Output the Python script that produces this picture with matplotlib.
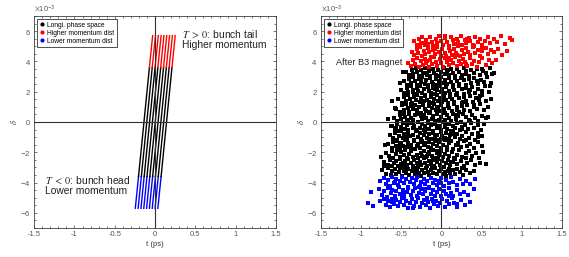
import matplotlib
matplotlib.use("Agg")
import matplotlib.pyplot as plt
from matplotlib.lines import Line2D
from matplotlib.ticker import AutoMinorLocator
import numpy as np

plt.rcParams['font.family'] = ['Liberation Sans', 'DejaVu Sans']
plt.rcParams['mathtext.fontset'] = 'stix'
plt.rcParams['axes.unicode_minus'] = False

# ---- left panel: 9 slices of the bunch, t (ps) read at four delta levels ----
delta_levels = [-5.7e-3, -3.6e-3, 3.6e-3, 5.7e-3]
t_bottom = [-0.245, -0.21, -0.175, -0.14, -0.105, -0.07, -0.035, 0.0, 0.035]
t_low = [-0.205, -0.17, -0.135, -0.10, -0.065, -0.03, 0.005, 0.04, 0.075]
t_high = [-0.07, -0.035, 0.0, 0.035, 0.07, 0.105, 0.14, 0.175, 0.21]
t_top = [-0.03, 0.005, 0.04, 0.075, 0.11, 0.145, 0.18, 0.215, 0.25]

# ---- right panel: particles after B3, (t in 0.01 ps, delta in 1e-5) ----
black_pts = [
    (-74,-318),(-69,-341),(-66,-305),(-63,-352),(-61,-327),(-58,-312),(-56,-346),(-53,-331),(-51,-303),(-49,-357),(-46,-322),
    (-44,-338),(-42,-309),(-40,-349),(-37,-326),(-35,-314),(-33,-343),(-31,-301),(-28,-335),(-26,-355),(-24,-319),(-22,-340),
    (-19,-307),(-17,-329),(-15,-351),(-13,-316),(-10,-337),(-8,-304),(-6,-347),(-3,-324),(-1,-311),(2,-342),(4,-330),(6,-356),
    (9,-308),(11,-334),(14,-320),(17,-345),(20,-313),(23,-332),(27,-350),(31,-317),(35,-339),(40,-325),
    (-71,-262),(-67,-284),(-64,-248),(-62,-293),(-59,-271),(-57,-255),(-54,-289),(-52,-243),(-50,-277),(-47,-297),(-45,-259),
    (-43,-281),(-41,-246),(-38,-268),(-36,-291),(-34,-252),(-31,-274),(-29,-299),(-27,-263),(-25,-286),(-22,-241),(-20,-270),
    (-18,-294),(-16,-257),(-13,-279),(-11,-249),(-9,-288),(-6,-265),(-4,-244),(-2,-283),(1,-260),(3,-296),(6,-273),(8,-251),
    (11,-287),(14,-266),(17,-245),(20,-280),(24,-258),(28,-292),(32,-269),(37,-254),(42,-285),(48,-272),
    (-69,-206),(-65,-227),(-62,-191),(-60,-238),(-57,-214),(-55,-183),(-52,-232),(-50,-199),(-47,-221),(-45,-187),(-43,-236),
    (-40,-209),(-38,-194),(-36,-229),(-33,-181),(-31,-217),(-29,-240),(-26,-202),(-24,-225),(-22,-189),(-19,-234),(-17,-211),
    (-15,-196),(-12,-223),(-10,-185),(-8,-237),(-5,-204),(-3,-219),(0,-192),(2,-231),(5,-213),(7,-184),(10,-226),(13,-200),
    (16,-239),(19,-216),(22,-188),(26,-230),(30,-207),(34,-193),(38,-222),(43,-203),(47,-235),
    (-66,-148),(-62,-171),(-60,-133),(-57,-162),(-55,-124),(-52,-177),(-50,-141),(-48,-156),(-45,-121),(-43,-168),(-41,-137),
    (-38,-152),(-36,-179),(-34,-128),(-31,-160),(-29,-144),(-27,-173),(-24,-123),(-22,-155),(-20,-139),(-17,-166),(-15,-131),
    (-13,-175),(-10,-147),(-8,-126),(-6,-158),(-3,-135),(-1,-170),(2,-150),(4,-122),(7,-164),(9,-142),(12,-129),(15,-176),
    (18,-153),(21,-136),(24,-167),(28,-127),(32,-158),(36,-143),(40,-172),(45,-132),(50,-161),
    (-64,-88),(-60,-109),(-58,-72),(-55,-117),(-53,-94),(-50,-63),(-48,-103),(-46,-79),(-43,-113),(-41,-67),(-39,-96),
    (-36,-84),(-34,-119),(-32,-61),(-29,-101),(-27,-76),(-25,-110),(-22,-89),(-20,-66),(-18,-106),(-15,-82),(-13,-115),
    (-11,-70),(-8,-98),(-6,-86),(-4,-118),(-1,-64),(1,-92),(4,-107),(6,-75),(9,-114),(11,-85),(14,-62),(17,-100),
    (20,-78),(23,-111),(26,-90),(30,-68),(34,-104),(38,-81),(42,-116),(46,-73),(51,-95),
    (-63,-27),(-58,-49),(-55,-12),(-53,-58),(-50,-35),(-48,-4),(-45,-44),(-43,-19),(-41,-53),(-38,-8),(-36,-38),
    (-34,-25),(-31,-56),(-29,-2),(-27,-42),(-24,-16),(-22,-51),(-20,-30),(-17,-6),(-15,-46),(-13,-22),(-10,-59),
    (-8,-11),(-6,-40),(-3,-28),(-1,-54),(2,-3),(4,-33),(7,-48),(9,-15),(12,-57),(14,-24),(17,-41),(20,-9),
    (23,-52),(26,-31),(29,-18),(33,-45),(37,-5),(41,-37),(45,-21),(49,-55),(53,-13),
    (-59,28),(-55,7),(-52,46),(-50,19),(-47,58),(-45,33),(-43,4),(-40,51),(-38,24),(-36,12),(-33,43),
    (-31,55),(-29,2),(-26,36),(-24,17),(-22,49),(-19,29),(-17,9),(-15,57),(-12,22),(-10,40),(-8,3),
    (-5,53),(-3,15),(-1,34),(2,59),(4,11),(7,44),(9,26),(12,6),(15,50),(18,20),(21,38),(24,1),
    (27,55),(30,31),(34,14),(38,47),(42,23),(46,8),(50,41),(55,27),
    (-56,88),(-52,67),(-49,109),(-47,79),(-44,118),(-42,94),(-40,63),(-37,103),(-35,84),(-33,115),(-30,71),
    (-28,97),(-26,61),(-23,112),(-21,86),(-19,74),(-16,106),(-14,65),(-12,92),(-9,119),(-7,78),(-5,100),
    (-2,69),(0,114),(3,83),(5,62),(8,108),(10,90),(13,73),(16,117),(19,96),(22,66),(25,104),(28,81),
    (32,111),(36,70),(40,99),(44,87),(48,116),(53,76),(58,101),
    (-54,149),(-49,128),(-46,167),(-44,139),(-41,178),(-39,154),(-37,122),(-34,163),(-32,144),(-30,175),(-27,131),
    (-25,158),(-23,121),(-20,171),(-18,146),(-16,134),(-13,166),(-11,125),(-9,152),(-6,179),(-4,138),(-2,160),
    (1,129),(3,173),(6,143),(8,123),(11,168),(13,150),(16,133),(19,177),(22,156),(25,126),(28,164),(31,141),
    (35,172),(39,130),(43,159),(47,147),(51,176),(56,136),
    (-50,209),(-46,188),(-43,227),(-41,199),(-38,238),(-36,214),(-34,182),(-31,223),(-29,204),(-27,235),(-24,191),
    (-22,218),(-20,181),(-17,231),(-15,206),(-13,194),(-10,226),(-8,185),(-6,212),(-3,239),(-1,198),(1,220),
    (4,189),(6,233),(9,203),(11,183),(14,228),(16,210),(19,193),(22,237),(25,216),(28,186),(31,224),(34,201),
    (38,232),(42,190),(46,219),(50,207),(54,236),(59,196),
    (-47,268),(-43,247),(-40,286),(-38,258),(-35,297),(-33,273),(-31,241),(-28,282),(-26,263),(-24,294),(-21,250),
    (-19,277),(-17,242),(-14,290),(-12,265),(-10,253),(-7,285),(-5,244),(-3,271),(0,298),(2,257),(4,279),
    (7,248),(9,292),(12,262),(14,243),(17,287),(19,269),(22,252),(25,296),(28,275),(31,245),(34,283),(37,260),
    (41,291),(45,249),(49,278),(53,266),(57,295),(62,255),
    (-44,328),(-40,307),(-37,346),(-35,318),(-32,357),(-30,333),(-28,301),(-25,342),(-23,323),(-21,354),(-18,310),
    (-16,337),(-14,302),(-11,350),(-9,325),(-7,313),(-4,345),(-2,304),(0,331),(3,358),(5,317),(7,339),
    (10,308),(12,352),(15,322),(17,303),(20,347),(22,329),(25,312),(28,356),(31,335),(34,305),(37,343),(40,320),
    (44,351),(48,309),(52,338),(56,326),(60,355),(63,315),
    (-62,140),(-58,95),(-66,20),(-61,-30),(-70,-150),(-75,-230),(-72,-290),(-52,260),(-48,330),
    (58,30),(62,150),(52,-200),(55,-280),(66,320),(60,240),
    # extra fill in the dense core
    (-30,-330),(-12,-298),(8,-322),(25,-305),(-48,-270),(-18,-228),(12,-262),(30,-240),(-38,-175),(-5,-190),
    (20,-150),(-25,-135),(0,-110),(-44,-95),(15,-80),(30,-120),(-20,-50),(5,-20),(-35,-10),(25,-45),
    (-42,15),(-10,30),(18,48),(35,5),(-30,80),(-4,95),(20,78),(40,112),(-22,140),(2,155),
    (27,132),(-35,200),(-8,215),(18,178),(36,210),(-26,270),(-2,250),(24,288),(44,270),(-20,320),
    (8,345),(30,315),(50,348),(-52,-150),(-56,-40),(-48,50),(-38,120),(-30,230),(45,-100),(48,170),
]

red_pts = [
    (-42,392),(-38,371),(-35,410),(-33,383),(-30,424),(-28,366),(-26,401),(-23,377),(-21,418),(-19,389),(-16,362),
    (-14,406),(-12,380),(-9,427),(-7,395),(-5,368),(-2,413),(0,386),(2,364),(5,420),(7,398),(9,374),(12,409),
    (14,388),(17,429),(19,367),(22,403),(24,381),(27,416),(29,393),(32,370),(35,422),(38,385),(41,405),(44,365),
    (47,396),(51,419),(55,378),(59,408),(63,390),(68,412),
    (-37,462),(-34,441),(-31,480),(-29,453),(-27,494),(-24,436),(-22,471),(-20,447),(-17,488),(-15,459),(-13,432),
    (-10,476),(-8,450),(-6,497),(-3,465),(-1,438),(1,483),(4,456),(6,434),(9,490),(11,468),(13,444),(16,479),
    (18,458),(21,499),(23,437),(26,473),(28,451),(31,486),(33,463),(36,440),(39,492),(42,455),(45,475),(48,435),
    (51,466),(55,489),(58,448),(62,478),(66,460),(71,482),(76,445),(82,470),
    (-34,532),(-31,511),(-28,550),(-26,523),(-24,564),(-21,506),(-19,541),(-17,517),(-14,558),(-12,529),(-10,502),
    (-7,546),(-5,520),(-3,567),(0,535),(2,508),(4,553),(7,526),(9,504),(12,561),(14,538),(16,514),(19,549),
    (21,528),(24,569),(26,507),(29,543),(31,521),(34,556),(36,533),(39,510),(42,562),(45,525),(48,545),(51,505),
    (54,536),(58,559),(61,518),(65,548),(69,530),(74,565),(79,515),(85,552),(88,540),
    (-18,400),(10,425),(30,380),(-8,480),(20,445),(40,500),(-22,520),(5,570),(32,545),(50,480),
]

blue_pts = [
    (-76,-392),(-72,-371),(-69,-410),(-66,-383),(-64,-424),(-61,-366),(-59,-401),(-56,-377),(-54,-418),(-51,-389),
    (-49,-362),(-47,-406),(-44,-380),(-42,-427),(-39,-395),(-37,-368),(-34,-413),(-32,-386),(-30,-364),(-27,-420),
    (-25,-398),(-22,-374),(-20,-409),(-18,-388),(-15,-429),(-13,-367),(-10,-403),(-8,-381),(-5,-416),(-3,-393),
    (0,-370),(3,-422),(6,-385),(9,-405),(12,-365),(15,-396),(19,-419),(23,-378),(27,-408),(31,-390),(36,-412),(42,-375),
    (-88,-462),(-78,-441),(-74,-480),(-71,-453),(-68,-494),(-66,-436),(-63,-471),(-61,-447),(-58,-488),(-56,-459),
    (-53,-432),(-51,-476),(-48,-450),(-46,-497),(-43,-465),(-41,-438),(-38,-483),(-36,-456),(-33,-434),(-31,-490),
    (-28,-468),(-26,-444),(-23,-479),(-21,-458),(-18,-499),(-16,-437),(-13,-473),(-11,-451),(-8,-486),(-6,-463),
    (-3,-440),(0,-492),(3,-455),(6,-475),(9,-435),(12,-466),(15,-489),(19,-448),(23,-478),(28,-460),(33,-482),(40,-445),
    (-92,-538),(-85,-552),(-76,-525),(-72,-511),(-69,-550),(-67,-523),(-64,-564),(-62,-506),(-59,-541),(-57,-517),
    (-54,-558),(-52,-529),(-49,-502),(-47,-546),(-44,-520),(-42,-567),(-39,-535),(-37,-508),(-34,-553),(-32,-526),
    (-29,-504),(-27,-561),(-24,-538),(-22,-514),(-19,-549),(-17,-528),(-14,-569),(-12,-507),(-9,-543),(-7,-521),
    (-4,-556),(-2,-533),(1,-510),(4,-562),(7,-525),(10,-545),(13,-505),(16,-536),(20,-559),(24,-518),(29,-548),(35,-530),
    (-58,-395),(-28,-430),(0,-400),(-46,-470),(-20,-440),(10,-490),(-62,-530),(-35,-568),(-10,-520),(20,-540),
]

legend_labels = ['Longi. phase space', 'Higher momentum dist', 'Lower momentum dist']
RED = '#ff0000'
BLUE = '#0000ff'
AX = '#404040'


def style_axes(ax):
    ax.set_xlim(-1.5, 1.5)
    ax.set_ylim(-7e-3, 7e-3)
    ax.set_xticks([-1.5, -1, -0.5, 0, 0.5, 1, 1.5])
    ax.set_xticklabels(['-1.5', '-1', '-0.5', '0', '0.5', '1', '1.5'])
    ax.set_yticks([-6e-3, -4e-3, -2e-3, 0, 2e-3, 4e-3, 6e-3])
    ax.ticklabel_format(axis='y', style='sci', scilimits=(0, 0), useMathText=True)
    ax.yaxis.get_offset_text().set_fontsize(5.5)
    ax.yaxis.get_offset_text().set_color('#555555')
    ax.xaxis.set_minor_locator(AutoMinorLocator(5))
    ax.yaxis.set_minor_locator(AutoMinorLocator(4))
    ax.tick_params(which='both', direction='in', top=True, right=True, colors=AX,
                   labelcolor='#555555', labelsize=5.5, width=0.5)
    ax.tick_params(which='major', length=2.5, pad=2.5)
    ax.tick_params(which='minor', length=1.3)
    for s in ax.spines.values():
        s.set_color(AX)
        s.set_linewidth(0.6)
    ax.axvline(0, color='#303030', lw=0.8, zorder=5)
    ax.axhline(0, color='#303030', lw=0.8, zorder=5)
    ax.set_xlabel('t (ps)', fontsize=5.5, color='#333333', labelpad=1.5)
    ax.set_ylabel(r'$\delta$', fontsize=6, color='#333333', labelpad=1)
    handles = [Line2D([], [], ls='none', marker='.', ms=4, color=c) for c in ['k', RED, BLUE]]
    leg = ax.legend(handles, legend_labels, loc='upper left', fontsize=4.8, frameon=True,
                    fancybox=False, edgecolor='#333333', framealpha=1,
                    handlelength=0.8, handletextpad=0.3, labelspacing=0.15,
                    borderpad=0.35, borderaxespad=0.5)
    leg.get_frame().set_linewidth(0.6)
    leg.set_zorder(10)


fig = plt.figure(figsize=(5.69, 2.57), dpi=100)
ax1 = fig.add_axes([0.060, 0.113, 0.425, 0.825])
ax2 = fig.add_axes([0.564, 0.113, 0.4236, 0.825])

# left panel
for tb, tl, th, tt in zip(t_bottom, t_low, t_high, t_top):
    ax1.plot([tb, tl], delta_levels[0:2], color=BLUE, lw=1.0, zorder=3)
    ax1.plot([tl, th], delta_levels[1:3], color='k', lw=1.0, zorder=3)
    ax1.plot([th, tt], delta_levels[2:4], color=RED, lw=1.0, zorder=3)
style_axes(ax1)
ax1.text(0.34, 6.2e-3, '$T \\;>\\; 0$: bunch tail\nHigher momentum', fontsize=7.4,
         va='top', ha='left', color='#222222', linespacing=1.05)
ax1.text(-1.37, -3.45e-3, '$T \\;<\\; 0$: bunch head\nLower momentum', fontsize=7.4,
         va='top', ha='left', color='#222222', linespacing=1.05)

# right panel
for pts, c in [(black_pts, 'k'), (red_pts, RED), (blue_pts, BLUE)]:
    t = np.array([p[0] for p in pts]) * 0.01
    d = np.array([p[1] for p in pts]) * 1e-5
    ax2.plot(t, d, ls='none', marker='s', ms=2.5, mew=0, color=c, zorder=3)
style_axes(ax2)
ax2.text(-1.31, 3.95e-3, 'After B3 magnet', fontsize=6.6, va='center', ha='left', color='#222222')

fig.savefig('out.png', dpi=100)
